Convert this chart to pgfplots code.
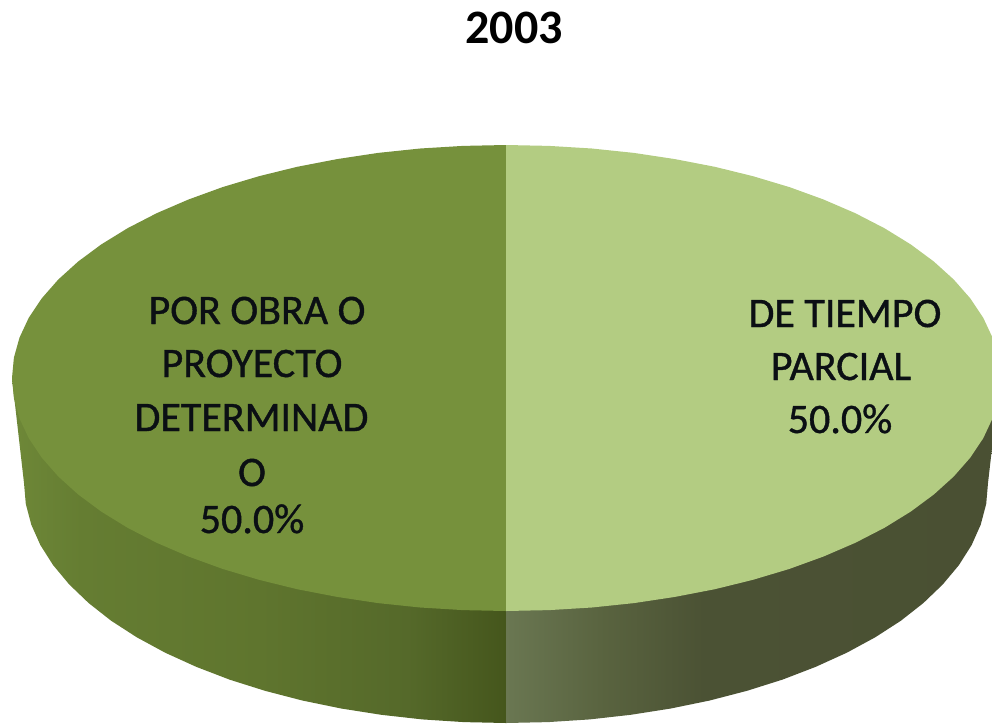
\documentclass[border=0pt]{standalone}
\usepackage{fontspec}
\setmainfont{Carlito}
\newfontfamily\labf[FakeBold=0.9]{Carlito}
\usepackage{pgfplots}
\pgfplotsset{compat=1.18}
\definecolor{topR}{HTML}{B3CC82}
\definecolor{topL}{HTML}{76913C}
\definecolor{txt}{HTML}{0B0F14}
\definecolor{la}{HTML}{6E8838}
\definecolor{laa}{HTML}{657D32}
\definecolor{lb}{HTML}{5F752E}
\definecolor{lc}{HTML}{55692A}
\definecolor{ld}{HTML}{45561C}
\definecolor{ra}{HTML}{6A7752}
\definecolor{rb}{HTML}{59633F}
\definecolor{rc}{HTML}{4B5234}
\definecolor{rd}{HTML}{4A5033}
\pgfdeclarehorizontalshading{sideL}{100bp}{color(0bp)=(la); color(25bp)=(la); color(32bp)=(laa); color(50bp)=(lb); color(65bp)=(lc); color(75bp)=(ld); color(100bp)=(ld)}
\pgfdeclarehorizontalshading{sideR}{100bp}{color(0bp)=(ra); color(25bp)=(ra); color(35bp)=(rb); color(45bp)=(rc); color(75bp)=(rd); color(100bp)=(rd)}
\begin{document}
\begin{tikzpicture}
\begin{axis}[
  width=992pt,height=723pt,scale only axis,
  xmin=0,xmax=992,ymin=0,ymax=723,y dir=reverse,
  axis lines=none,
]
% side, left half
\addplot[draw=none,shading=sideL] coordinates {
(506,378)(12,378)(24,483)(25.8,503.9)(31.3,524.7)(40.4,545.1)(53.1,565.1)(69.2,584.4)(88.6,603)(111.1,620.7)(136.8,637.3)(165.2,652.7)(196.2,666.8)(229.5,679.6)(265,690.8)(302.3,700.5)(341.2,708.5)(381.3,714.8)(422.3,719.4)(464,722.1)(506,723)} -- cycle;
% side, right half
\addplot[draw=none,shading=sideR] coordinates {
(506,378)(1000,378)(988,483)(986.2,503.9)(980.7,524.7)(971.6,545.1)(958.9,565.1)(942.8,584.4)(923.4,603)(900.9,620.7)(875.2,637.3)(846.8,652.7)(815.8,666.8)(782.5,679.6)(747,690.8)(709.7,700.5)(670.8,708.5)(630.7,714.8)(589.7,719.4)(548,722.1)(506,723)} -- cycle;
% top, left half
\addplot[draw=none,fill=topL] coordinates {
(506,145)(462.9,145.9)(420.2,148.5)(378.1,152.9)(337.1,159.1)(297.2,166.8)(259,176.2)(222.6,187.1)(188.5,199.5)(156.7,213.2)(127.6,228.2)(101.3,244.4)(78.2,261.5)(58.3,279.5)(41.8,298.3)(28.8,317.7)(19.5,337.6)(13.9,357.7)(12,378)(13.9,398.3)(19.5,418.4)(28.8,438.3)(41.8,457.7)(58.3,476.5)(78.2,494.5)(101.3,511.6)(127.6,527.8)(156.7,542.8)(188.5,556.5)(222.6,568.9)(259,579.8)(297.2,589.2)(337.1,596.9)(378.1,603.1)(420.2,607.5)(462.9,610.1)(506,611)} -- cycle;
% top, right half
\addplot[draw=none,fill=topR] coordinates {
(506,145)(549.1,145.9)(591.8,148.5)(633.9,152.9)(674.9,159.1)(714.8,166.8)(753,176.2)(789.4,187.1)(823.5,199.5)(855.3,213.2)(884.4,228.2)(910.7,244.4)(933.8,261.5)(953.7,279.5)(970.2,298.3)(983.2,317.7)(992.5,337.6)(998.1,357.7)(1000,378)(998.1,398.3)(992.5,418.4)(983.2,438.3)(970.2,457.7)(953.7,476.5)(933.8,494.5)(910.7,511.6)(884.4,527.8)(855.3,542.8)(823.5,556.5)(789.4,568.9)(753,579.8)(714.8,589.2)(674.9,596.9)(633.9,603.1)(591.8,607.5)(549.1,610.1)(506,611)} -- cycle;
\tikzset{lab/.style={anchor=base,text=txt,font=\labf\fontsize{42}{46}\selectfont,inner sep=0pt}}
\node[anchor=base,text=black,font=\bfseries\fontsize{48}{52}\selectfont,inner sep=0pt] at (axis cs:514,43) {2003};
\node[lab] at (axis cs:257,324) {POR OBRA O};
\node[lab] at (axis cs:252,377) {PROYECTO};
\node[lab] at (axis cs:251.5,431) {DETERMINAD};
\node[lab] at (axis cs:252,486) {O};
\node[lab] at (axis cs:252,533) {50.0\%};
\node[lab] at (axis cs:845,327) {DE TIEMPO};
\node[lab] at (axis cs:841,380) {PARCIAL};
\node[lab] at (axis cs:840,433) {50.0\%};
\end{axis}
\pgfresetboundingbox
\path[use as bounding box] (0,0) rectangle (992pt,723pt);
\end{tikzpicture}
\end{document}
